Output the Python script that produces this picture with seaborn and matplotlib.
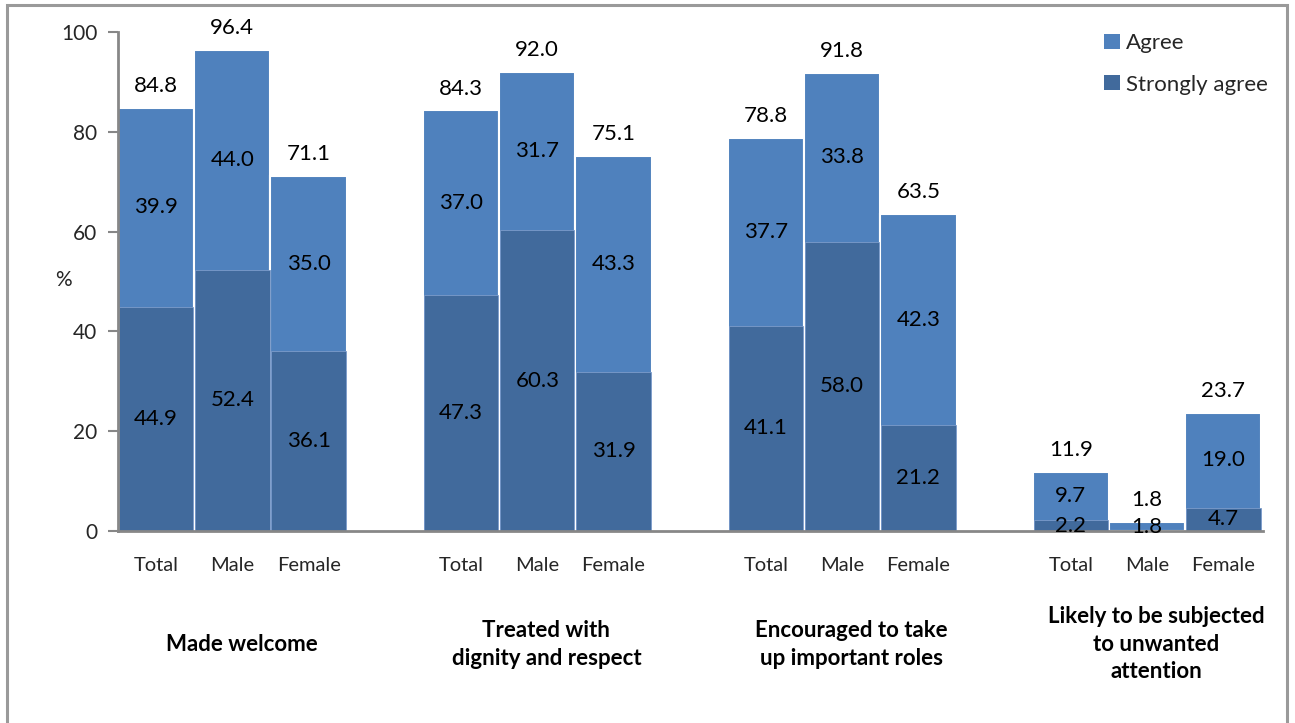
import matplotlib
matplotlib.use("Agg")
import matplotlib.pyplot as plt
from matplotlib.patches import Patch, Rectangle
import seaborn as sns
import pandas as pd

# Survey themes (x-axis groups) and respondent breakdown within each theme
themes = [
    "Made welcome",
    "Treated with\ndignity and respect",
    "Encouraged to take\nup important roles",
    "Likely to be subjected\nto unwanted\nattention",
]
groups = ["Total", "Male", "Female"]

# Percentages, listed theme by theme (Total, Male, Female)
strongly_agree = [44.9, 52.4, 36.1, 47.3, 60.3, 31.9, 41.1, 58.0, 21.2, 2.2, 0.0, 4.7]
agree = [39.9, 44.0, 35.0, 37.0, 31.7, 43.3, 37.7, 33.8, 42.3, 9.7, 1.8, 19.0]
totals = [84.8, 96.4, 71.1, 84.3, 92.0, 75.1, 78.8, 91.8, 63.5, 11.9, 1.8, 23.7]

AGREE_COLOR = "#4F81BD"
STRONG_COLOR = "#416A9C"
AXIS_GRAY = "#878787"

# Each theme takes three slots followed by one empty slot
pos = [t * 4 + g for t in range(len(themes)) for g in range(len(groups))]
df = pd.DataFrame({
    "pos": pos,
    "group": groups * len(themes),
    "strongly_agree": strongly_agree,
    "agree": agree,
    "total": totals,
})

sns.set_theme(style="white")
plt.rcParams["font.family"] = ["Lato", "DejaVu Sans"]

W, H = 1295, 723
fig = plt.figure(figsize=(W / 100, H / 100), dpi=100)
ax = fig.add_axes([118 / W, 1 - 531 / H, 1145 / W, 499 / H])

# Full bar (Agree on top) then the Strongly agree part drawn over its base
sns.barplot(data=df, x="pos", y="total", native_scale=True, color=AGREE_COLOR,
            saturation=1, width=1.0, edgecolor="white", linewidth=1.5,
            errorbar=None, ax=ax)
strong_df = df[df["strongly_agree"] > 0]
sns.barplot(data=strong_df, x="pos", y="strongly_agree", native_scale=True,
            color=STRONG_COLOR, saturation=1, width=0.975, edgecolor="#7C9CCB",
            linewidth=0.6, errorbar=None, ax=ax)

# Value labels
label_kw = dict(ha="center", va="center", fontsize=16, color="black")
for _, r in df.iterrows():
    if r["strongly_agree"] > 0:
        ax.text(r["pos"], r["strongly_agree"] / 2, f"{r['strongly_agree']:.1f}", **label_kw)
    ax.text(r["pos"], r["strongly_agree"] + r["agree"] / 2, f"{r['agree']:.1f}", **label_kw)
    ax.annotate(f"{r['total']:.1f}", (r["pos"], r["total"]), xytext=(0, 8.5),
                textcoords="offset points", ha="center", va="bottom",
                fontsize=16, color="black")

# Axes styling
ax.set_xlim(-0.5, 14.52)
ax.set_ylim(0, 100)
ax.set_yticks(range(0, 101, 20))
ax.set_xticks(pos)
ax.set_xticklabels(df["group"], fontsize=14.5)
ax.tick_params(axis="x", length=0, pad=18.5)
ax.tick_params(axis="y", length=7, width=1.5, color=AXIS_GRAY, pad=8, labelsize=15,
               direction="out", left=True)
ax.set_xlabel("")
ax.set_ylabel("%", rotation=0, fontsize=15, ha="center", va="center")
ax.yaxis.set_label_coords(-0.048, 0.503)
for side in ("top", "right"):
    ax.spines[side].set_visible(False)
for side in ("left", "bottom"):
    ax.spines[side].set_color(AXIS_GRAY)
    ax.spines[side].set_linewidth(2)
ax.grid(False)

# Theme names beneath the Total/Male/Female labels
for t, name in enumerate(themes):
    ax.text(t * 4 + 1 + 0.12, -0.227, name, transform=ax.get_xaxis_transform(),
            ha="center", va="center", fontsize=16, fontweight="bold",
            linespacing=1.38, color="black")

# Legend
handles = [Patch(facecolor=AGREE_COLOR, edgecolor="none", label="Agree"),
           Patch(facecolor=STRONG_COLOR, edgecolor="none", label="Strongly agree")]
fig.legend(handles=handles, loc="upper left", bbox_to_anchor=(1100 / W, 1 - 29 / H),
           bbox_transform=fig.transFigure, frameon=False, fontsize=16,
           handlelength=0.68, handleheight=0.68, handletextpad=0.3,
           labelspacing=0.95, borderpad=0.2, borderaxespad=0)

# Chart-area border
fig.patches.append(Rectangle((7 / W, -0.05), (1287 - 7) / W, 1.05 - 5 / H,
                             transform=fig.transFigure, fill=False,
                             edgecolor="#9A9A9A", linewidth=2.2, zorder=0))

fig.savefig("out.png", dpi=100)
